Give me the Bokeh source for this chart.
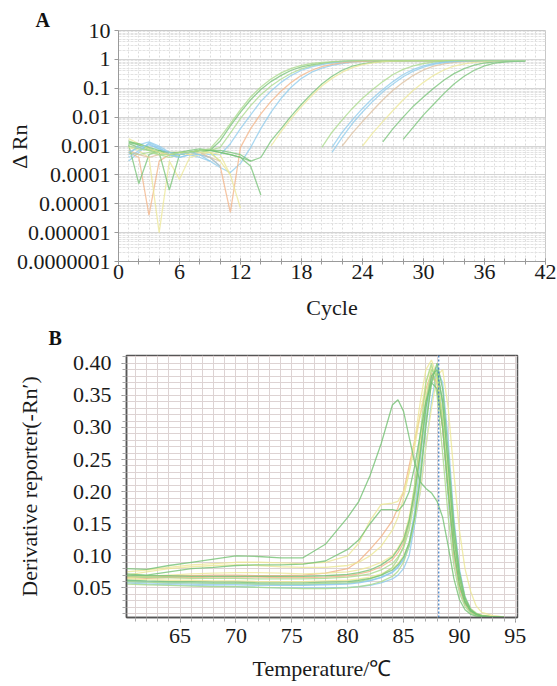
import math
from bokeh.plotting import figure
from bokeh.models import (FixedTicker, SingleIntervalTicker, Span, Range1d,
                          PrintfTickFormatter)
from bokeh.embed import file_html
from bokeh.resources import INLINE

N = float("nan")

# ---------------- Panel A: amplification curves (ΔRn vs cycle) ----------------
cycles = list(range(1, 41))
decade_values = [1e-7, 1e-6, 1e-5, 1e-4, 1e-3, 1e-2, 1e-1, 1.0, 10.0]
decade_labels = ["0.0000001", "0.000001", "0.00001", "0.0001", "0.001",
                 "0.01", "0.1", "1", "10"]

amp_01 = [0.0012, 0.0009, 0.0007, 0.0006, 0.0005, 0.0005, 0.0006, 0.0006, 0.0007, 0.0015,
          0.005, 0.015, 0.04, 0.09, 0.17, 0.28, 0.42, 0.55, 0.65, 0.73,
          0.8, 0.85, 0.88, 0.89, 0.9, 0.9, 0.9, 0.9, 0.91, 0.91,
          0.91, 0.91, 0.91, 0.91, 0.91, 0.91, 0.91, 0.91, 0.91, 0.91]
amp_02 = [0.0015, 0.0011, 0.0008, 0.0006, 0.0006, 0.0005, 0.0006, 0.0007, 0.0007, 0.0009,
          0.0028, 0.009, 0.025, 0.06, 0.12, 0.21, 0.33, 0.47, 0.6, 0.7,
          0.78, 0.83, 0.87, 0.89, 0.9, 0.9, 0.9, 0.9, 0.9, 0.9,
          0.9, 0.9, 0.9, 0.9, 0.9, 0.9, 0.9, 0.9, 0.9, 0.9]
amp_03 = [0.0005, 0.0011, 0.0014, 0.001, 0.0006, 0.0005, 0.0006, 0.0006, 0.0005, 0.0005,
          0.0012, 0.004, 0.012, 0.035, 0.08, 0.16, 0.28, 0.42, 0.55, 0.66,
          0.75, 0.81, 0.85, 0.88, 0.89, 0.9, 0.9, 0.9, 0.9, 0.9,
          0.9, 0.9, 0.9, 0.9, 0.9, 0.9, 0.9, 0.9, 0.9, 0.9]
amp_04 = [0.0003, 0.0006, 0.0013, 0.0009, 0.0005, 0.0004, 0.0005, 0.0004, 0.0003, 0.00018,
          0.00012, 0.00025, 0.0009, 0.004, 0.015, 0.045, 0.11, 0.22, 0.36, 0.5,
          0.62, 0.72, 0.8, 0.85, 0.88, 0.89, 0.89, 0.89, 0.89, 0.89,
          0.89, 0.89, 0.89, 0.89, 0.89, 0.89, 0.89, 0.89, 0.89, 0.89]
amp_05 = [0.0006, 0.0004, 0.000004, 0.0003, 0.0005, 0.0006, 0.0006, 0.0005, 0.0004, 0.0002,
          0.000005, 0.0009, 0.004, 0.013, 0.035, 0.08, 0.16, 0.28, 0.42, 0.56,
          0.67, 0.76, 0.82, 0.86, 0.88, 0.89, 0.89, 0.89, 0.89, 0.89,
          0.89, 0.89, 0.89, 0.89, 0.89, 0.89, 0.89, 0.89, 0.89, 0.89]
amp_06 = [0.0011, 0.00005, 0.0005, 0.0007, 0.0005, 0.0006, 0.0006, 0.0007, 0.0007, 0.0006,
          0.0005, 0.0004, 0.0003, 0.0004, 0.0015, 0.004, 0.011, 0.028, 0.065, 0.14,
          0.26, 0.42, 0.58, 0.7, 0.79, 0.84, 0.87, 0.89, 0.9, 0.9,
          0.9, 0.9, 0.9, 0.9, 0.9, 0.9, 0.9, 0.9, 0.9, 0.9]
amp_07 = [0.0009, 0.0007, 0.0004, 0.000001, 0.0003, 0.00007, 0.0004, 0.0005, 0.0006, 0.0005,
          0.0001, 0.000007, N, N, 0.001, 0.0032, 0.009, 0.023, 0.055, 0.12,
          0.22, 0.36, 0.52, 0.66, 0.76, 0.83, 0.87, 0.89, 0.9, 0.9,
          0.9, 0.9, 0.9, 0.9, 0.9, 0.9, 0.9, 0.9, 0.9, 0.9]
amp_08 = [0.0013, 0.0011, 0.0008, 0.0006, 0.00003, 0.0005, 0.0006, 0.0007, 0.0007, 0.0006,
          0.0005, 0.0004, 0.0002, 0.00002, N, N, N, N, N, N,
          N, N, N, N, N, 0.0014, 0.004, 0.01, 0.024, 0.05,
          0.1, 0.19, 0.32, 0.48, 0.63, 0.75, 0.82, 0.86, 0.88, 0.9]
amp_09 = [0.0006, 0.0005, 0.0006, 0.0005, 0.0004, 0.0005, 0.0006, 0.0007, 0.0006, 0.0003,
          N, N, N, N, N, N, N, N, N, 0.0009,
          0.003, 0.008, 0.02, 0.045, 0.09, 0.17, 0.3, 0.45, 0.6, 0.72,
          0.8, 0.85, 0.88, 0.9, 0.9, 0.9, 0.9, 0.9, 0.9, 0.9]
amp_10 = [0.0004, 0.0007, 0.0012, 0.0008, 0.0005, 0.0004, 0.0005, 0.0005, 0.0004, 0.0002,
          N, N, N, N, N, N, N, N, N, N,
          0.0009, 0.003, 0.008, 0.02, 0.045, 0.09, 0.17, 0.3, 0.45, 0.6,
          0.72, 0.8, 0.85, 0.88, 0.9, 0.9, 0.9, 0.9, 0.9, 0.9]
amp_11 = [0.0007, 0.0005, 0.0004, 0.0005, 0.0006, 0.0006, 0.0005, 0.0006, 0.0004, 0.0003,
          N, N, N, N, N, N, N, N, N, N,
          N, 0.001, 0.0028, 0.007, 0.017, 0.04, 0.085, 0.16, 0.28, 0.43,
          0.58, 0.7, 0.79, 0.84, 0.87, 0.89, 0.9, 0.9, 0.9, 0.9]
amp_12 = [0.0018, 0.0012, 0.0008, 0.0006, 0.0005, 0.0006, 0.0005, 0.0006, 0.0006, 0.0003,
          0.0001, N, N, N, N, N, N, N, N, N,
          N, N, N, 0.001, 0.0028, 0.007, 0.017, 0.04, 0.085, 0.16,
          0.28, 0.43, 0.58, 0.7, 0.79, 0.84, 0.87, 0.89, 0.9, 0.9]
amp_13 = [0.0014, 0.0012, 0.0009, 0.0007, 0.0006, 0.0006, 0.0007, 0.0008, 0.0007, 0.0007,
          0.0006, 0.0005, 0.0003, N, N, N, N, N, N, N,
          N, N, N, N, N, N, N, 0.0017, 0.0045, 0.012,
          0.028, 0.065, 0.14, 0.26, 0.42, 0.6, 0.74, 0.81, 0.85, 0.88]
amp_14 = [0.0006, 0.0009, 0.0011, 0.0008, 0.0006, 0.0005, 0.0006, 0.0005, 0.0003, N,
          N, N, N, N, N, N, N, N, N, N,
          0.0006, 0.002, 0.006, 0.015, 0.035, 0.075, 0.14, 0.25, 0.39, 0.54,
          0.67, 0.77, 0.83, 0.87, 0.89, 0.9, 0.9, 0.9, 0.9, 0.9]
amp_15 = [0.001, 0.0008, 0.0007, 0.0005, 0.0005, 0.0006, 0.0006, 0.0007, 0.0008, 0.002,
          0.006, 0.018, 0.05, 0.11, 0.21, 0.34, 0.49, 0.62, 0.72, 0.79,
          0.84, 0.87, 0.89, 0.9, 0.9, 0.9, 0.9, 0.9, 0.9, 0.9,
          0.9, 0.9, 0.9, 0.9, 0.9, 0.9, 0.9, 0.9, 0.9, 0.9]

# ---------------- Panel B: melt curves (derivative vs temperature) ----------------
temps = [60.2, 62, 64, 66, 68, 70, 72, 74, 76, 78, 80, 81, 82, 83, 84, 84.5, 85, 85.5,
         86, 86.5, 87, 87.5, 88, 88.5, 89, 89.5, 90, 90.5, 91, 91.5, 92, 93, 94]
threshold_temp = 88.15

melt_01 = [0.08, 0.079, 0.085, 0.09, 0.095, 0.1, 0.099, 0.097, 0.097, 0.118, 0.16, 0.185,
           0.225, 0.275, 0.335, 0.343, 0.325, 0.285, 0.245, 0.215, 0.205, 0.198, 0.185,
           0.16, 0.115, 0.065, 0.032, 0.016, 0.009, 0.006, 0.005, 0.004, 0.004]
melt_02 = [0.072, 0.07, 0.075, 0.08, 0.082, 0.085, 0.086, 0.086, 0.087, 0.092, 0.11, 0.125,
           0.15, 0.172, 0.172, 0.17, 0.18, 0.2, 0.24, 0.29, 0.34, 0.37, 0.36, 0.3, 0.2,
           0.11, 0.055, 0.027, 0.014, 0.009, 0.006, 0.005, 0.004]
melt_03 = [0.075, 0.078, 0.082, 0.086, 0.088, 0.09, 0.09, 0.089, 0.088, 0.09, 0.1, 0.12,
           0.155, 0.18, 0.182, 0.185, 0.2, 0.23, 0.27, 0.32, 0.37, 0.395, 0.38, 0.32, 0.23,
           0.14, 0.07, 0.035, 0.018, 0.011, 0.008, 0.006, 0.005]
melt_04 = [0.068, 0.067, 0.068, 0.069, 0.07, 0.07, 0.069, 0.069, 0.07, 0.073, 0.08, 0.092,
           0.11, 0.13, 0.155, 0.175, 0.2, 0.24, 0.28, 0.32, 0.36, 0.385, 0.37, 0.3, 0.2,
           0.11, 0.052, 0.026, 0.013, 0.008, 0.006, 0.005, 0.004]
melt_05 = [0.07, 0.075, 0.08, 0.083, 0.085, 0.086, 0.085, 0.083, 0.082, 0.082, 0.085, 0.09,
           0.1, 0.115, 0.14, 0.16, 0.19, 0.23, 0.28, 0.34, 0.39, 0.405, 0.38, 0.31, 0.21,
           0.12, 0.06, 0.03, 0.016, 0.01, 0.007, 0.005, 0.004]
melt_06 = [0.068, 0.066, 0.066, 0.065, 0.065, 0.065, 0.064, 0.064, 0.064, 0.065, 0.067, 0.069,
           0.072, 0.078, 0.088, 0.098, 0.112, 0.14, 0.19, 0.26, 0.34, 0.39, 0.38, 0.31, 0.2,
           0.11, 0.055, 0.027, 0.014, 0.009, 0.006, 0.005, 0.004]
melt_07 = [0.062, 0.061, 0.06, 0.06, 0.059, 0.059, 0.058, 0.058, 0.058, 0.059, 0.06, 0.062,
           0.065, 0.07, 0.078, 0.086, 0.098, 0.12, 0.16, 0.22, 0.3, 0.37, 0.4, 0.36, 0.26,
           0.15, 0.075, 0.035, 0.017, 0.01, 0.007, 0.005, 0.004]
melt_08 = [0.058, 0.056, 0.055, 0.054, 0.053, 0.052, 0.051, 0.05, 0.05, 0.05, 0.051, 0.052,
           0.054, 0.058, 0.064, 0.07, 0.08, 0.1, 0.15, 0.22, 0.31, 0.38, 0.395, 0.33, 0.22,
           0.12, 0.058, 0.028, 0.014, 0.009, 0.006, 0.005, 0.004]
melt_09 = [0.06, 0.058, 0.057, 0.056, 0.055, 0.055, 0.054, 0.054, 0.054, 0.055, 0.056, 0.058,
           0.061, 0.066, 0.074, 0.082, 0.095, 0.12, 0.17, 0.25, 0.33, 0.38, 0.37, 0.3, 0.19,
           0.1, 0.05, 0.025, 0.013, 0.008, 0.006, 0.005, 0.004]
melt_10 = [0.064, 0.063, 0.062, 0.062, 0.061, 0.061, 0.06, 0.06, 0.06, 0.061, 0.062, 0.064,
           0.067, 0.072, 0.08, 0.088, 0.1, 0.12, 0.155, 0.2, 0.27, 0.33, 0.38, 0.39, 0.33,
           0.23, 0.14, 0.08, 0.045, 0.022, 0.012, 0.007, 0.005]
melt_11 = [0.06, 0.059, 0.058, 0.058, 0.057, 0.057, 0.056, 0.056, 0.056, 0.057, 0.058, 0.06,
           0.064, 0.07, 0.082, 0.095, 0.115, 0.15, 0.21, 0.29, 0.37, 0.4, 0.35, 0.26, 0.16,
           0.085, 0.042, 0.021, 0.011, 0.007, 0.005, 0.004, 0.004]
melt_12 = [0.066, 0.065, 0.066, 0.066, 0.067, 0.067, 0.067, 0.066, 0.066, 0.067, 0.069, 0.072,
           0.076, 0.083, 0.094, 0.105, 0.12, 0.15, 0.2, 0.27, 0.34, 0.38, 0.37, 0.3, 0.2,
           0.1, 0.05, 0.025, 0.013, 0.008, 0.006, 0.005, 0.004]
melt_13 = [0.07, 0.069, 0.069, 0.068, 0.068, 0.068, 0.068, 0.068, 0.068, 0.069, 0.071, 0.074,
           0.078, 0.086, 0.098, 0.11, 0.125, 0.155, 0.2, 0.26, 0.33, 0.38, 0.39, 0.34, 0.24,
           0.13, 0.065, 0.03, 0.015, 0.009, 0.006, 0.005, 0.004]
melt_14 = [0.056, 0.055, 0.054, 0.053, 0.052, 0.052, 0.051, 0.05, 0.049, 0.049, 0.05, 0.052,
           0.055, 0.06, 0.068, 0.076, 0.09, 0.115, 0.16, 0.23, 0.31, 0.37, 0.385, 0.34, 0.24,
           0.14, 0.07, 0.033, 0.016, 0.01, 0.007, 0.005, 0.004]
melt_15 = [0.065, 0.068, 0.07, 0.072, 0.073, 0.074, 0.074, 0.073, 0.072, 0.073, 0.075, 0.078,
           0.083, 0.09, 0.1, 0.112, 0.128, 0.16, 0.21, 0.28, 0.35, 0.39, 0.38, 0.31, 0.21,
           0.11, 0.055, 0.027, 0.014, 0.009, 0.006, 0.005, 0.004]
melt_16 = [0.062, 0.06, 0.059, 0.058, 0.057, 0.057, 0.056, 0.055, 0.055, 0.056, 0.057, 0.059,
           0.062, 0.067, 0.075, 0.083, 0.094, 0.115, 0.15, 0.2, 0.27, 0.34, 0.39, 0.37, 0.28,
           0.16, 0.08, 0.037, 0.018, 0.011, 0.007, 0.005, 0.004]

# ---------------- styling ----------------
GREEN = "#74c274"
LGREEN = "#a8d98a"
BLUE = "#8ecbec"
ORANGE = "#f3b386"
YELLOW = "#ece796"
TAN = "#dcbf9e"
SERIF = "Liberation Serif"
FS = "22px"

amp_series = [(amp_01, GREEN), (amp_02, LGREEN), (amp_03, BLUE), (amp_04, BLUE),
              (amp_05, ORANGE), (amp_06, GREEN), (amp_07, YELLOW), (amp_08, GREEN),
              (amp_09, LGREEN), (amp_10, BLUE), (amp_11, TAN), (amp_12, YELLOW),
              (amp_13, GREEN), (amp_14, BLUE), (amp_15, LGREEN)]
melt_series = [(melt_08, BLUE), (melt_09, BLUE), (melt_16, BLUE), (melt_12, ORANGE),
               (melt_04, ORANGE), (melt_10, YELLOW), (melt_15, YELLOW), (melt_05, YELLOW),
               (melt_03, YELLOW), (melt_06, LGREEN), (melt_11, LGREEN), (melt_14, LGREEN),
               (melt_07, GREEN), (melt_13, GREEN), (melt_02, GREEN), (melt_01, GREEN)]

# ---------------- Figure A ----------------
pA = figure(width=557, height=322, x_range=Range1d(0, 42), y_range=Range1d(1e-7, 10),
            y_axis_type="log", output_backend="svg", toolbar_location=None,
            min_border_left=118, min_border_right=12, min_border_top=30,
            min_border_bottom=57, background_fill_color="white",
            border_fill_color="white", outline_line_color="#c8c8c8")

pA.title.text = "A"
pA.title.align = "left"
pA.title.offset = -83
pA.title.standoff = 0
pA.title.text_font = SERIF
pA.title.text_font_size = "20px"
pA.title.text_font_style = "bold"
pA.title.text_color = "#111111"

for vals, col in amp_series:
    pA.line(cycles, vals, line_color=col, line_alpha=0.75, line_width=1.3)

pA.xaxis.ticker = SingleIntervalTicker(interval=6, num_minor_ticks=3)
pA.yaxis.ticker = FixedTicker(ticks=decade_values, minor_ticks=[])
pA.yaxis.major_label_overrides = {v: s for v, s in zip(decade_values, decade_labels)}
for ax in (pA.xaxis[0], pA.yaxis[0]):
    ax.axis_line_color = "#9a9a9a"
    ax.major_tick_line_color = "#9a9a9a"
    ax.minor_tick_line_color = "#9a9a9a"
    ax.major_label_text_font = SERIF
    ax.major_label_text_font_size = FS
    ax.major_label_text_color = "#1a1a1a"
    ax.axis_label_text_font = SERIF
    ax.axis_label_text_font_size = FS
    ax.axis_label_text_font_style = "normal"
    ax.axis_label_text_color = "#1a1a1a"
pA.xaxis.major_tick_in = 3
pA.xaxis.major_tick_out = 3
pA.xaxis.minor_tick_in = 3
pA.xaxis.minor_tick_out = 3
pA.xaxis.major_label_standoff = 0
pA.xaxis.axis_label = "Cycle"
pA.xaxis.axis_label_standoff = 13
pA.yaxis.major_tick_in = 0
pA.yaxis.major_tick_out = 4
pA.yaxis.major_label_standoff = 4
pA.yaxis.axis_label = "Δ Rn"
pA.yaxis.axis_label_standoff = -18

pA.xgrid.ticker = SingleIntervalTicker(interval=1)
pA.xgrid.grid_line_color = "#dcdcdc"
pA.xgrid.grid_line_dash = "2 2"
pA.ygrid.ticker = FixedTicker(ticks=decade_values,
                              minor_ticks=[m * 10.0 ** k for k in range(-7, 1) for m in range(2, 10)])
pA.ygrid.grid_line_color = "#d4d4d4"
pA.ygrid.minor_grid_line_color = "#e2e2e2"
pA.ygrid.minor_grid_line_dash = "3 1"

# ---------------- Figure B ----------------
pB = figure(width=557, height=364, x_range=Range1d(60.2, 95.2), y_range=Range1d(0.004, 0.412),
            output_backend="svg", toolbar_location=None,
            min_border_left=126, min_border_right=40, min_border_top=30,
            min_border_bottom=69, background_fill_color="white",
            border_fill_color="white", outline_line_color="#555555", outline_line_width=1.5)

pB.title.text = "B"
pB.title.align = "left"
pB.title.offset = -78
pB.title.standoff = 9
pB.title.vertical_align = "top"
pB.title.text_font = SERIF
pB.title.text_font_size = "20px"
pB.title.text_font_style = "bold"
pB.title.text_color = "#111111"

pB.xgrid.ticker = SingleIntervalTicker(interval=1)
pB.ygrid.ticker = SingleIntervalTicker(interval=0.01)
for g in (pB.xgrid[0], pB.ygrid[0]):
    g.grid_line_color = "#ddd3d3"
    g.grid_line_width = 1

for vals, col in melt_series:
    pB.line(temps, vals, line_color=col, line_alpha=0.8, line_width=1.3)

pB.add_layout(Span(location=threshold_temp, dimension="height", line_color="#3b7dc4",
                   line_dash="2 2", line_width=1.2))

pB.xaxis.ticker = SingleIntervalTicker(interval=5, num_minor_ticks=5)
pB.yaxis.ticker = SingleIntervalTicker(interval=0.05, num_minor_ticks=5)
pB.yaxis.formatter = PrintfTickFormatter(format="%.2f")
for ax in (pB.xaxis[0], pB.yaxis[0]):
    ax.axis_line_color = "#555555"
    ax.axis_line_width = 1.5
    ax.major_tick_line_color = "#888888"
    ax.minor_tick_line_color = "#aaaaaa"
    ax.major_tick_in = 0
    ax.major_tick_out = 5
    ax.minor_tick_in = 0
    ax.minor_tick_out = 4
    ax.major_label_text_font = SERIF
    ax.major_label_text_font_size = FS
    ax.major_label_text_color = "#1a1a1a"
    ax.axis_label_text_font = SERIF
    ax.axis_label_text_font_size = FS
    ax.axis_label_text_font_style = "normal"
    ax.axis_label_text_color = "#1a1a1a"
pB.xaxis.major_label_standoff = 6
pB.yaxis.major_label_standoff = 10
pB.xaxis.axis_label = "Temperature/℃"
pB.xaxis.axis_label_standoff = 10
pB.yaxis.axis_label = "Derivative reporter(-Rn′)"
pB.yaxis.axis_label_standoff = 28

open("out.html", "w").write(file_html([pA, pB], INLINE))
